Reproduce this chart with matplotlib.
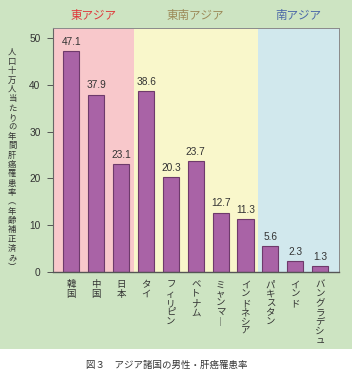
import matplotlib
matplotlib.use("Agg")
import matplotlib.pyplot as plt
from matplotlib.patches import Rectangle

plt.rcParams["font.family"] = ["Noto Sans CJK JP", "DejaVu Sans"]

countries = ["韓国", "中国", "日本", "タイ", "フィリピン", "ベトナム", "ミャンマ︱",
             "インドネシア", "パキスタン", "インド", "バングラデシュ"]
rates = [47.1, 37.9, 23.1, 38.6, 20.3, 23.7, 12.7, 11.3, 5.6, 2.3, 1.3]
regions = ["東アジア", "東南アジア", "南アジア"]
region_counts = [3, 5, 3]
region_colors = ["#f8c8cb", "#f9f7cb", "#d1e8ed"]
region_text_colors = ["#e0383a", "#9c8a58", "#4a66a8"]
yticks = [0, 10, 20, 30, 40, 50]
ylabel = "人口十万人当たりの年間肝癌罹患率︵年齢補正済み︶"
caption = "図３　アジア諸国の男性・肝癌罹患率"

fig = plt.figure(figsize=(3.52, 3.72), dpi=100)
fig.patch.set_facecolor("white")
fig.add_artist(Rectangle((0, 23 / 372), 1, 1 - 23 / 372, transform=fig.transFigure,
                         facecolor="#cde4c2", edgecolor="none", zorder=0))

ax = fig.add_axes([53 / 352, 100 / 372, 286 / 352, 244 / 372])
ax.set_facecolor("none")
ax.set_xlim(-0.74, len(rates) - 0.24)
ax.set_ylim(0, 52.1)

# region bands
start = -0.74
idx = 0
for name, n, c, tc in zip(regions, region_counts, region_colors, region_text_colors):
    end = idx + n - 0.5 if idx + n < len(rates) else len(rates) - 0.24
    ax.axvspan(start, end, color=c, zorder=0, lw=0)
    ax.text((start + end) / 2, 1.05, name, transform=ax.get_xaxis_transform(),
            ha="center", va="center", fontsize=8.3, color=tc)
    start = end
    idx += n

x = list(range(len(rates)))
bars = ax.bar(x, rates, width=0.65, color="#a963a6", edgecolor="#6e3a6b",
              linewidth=0.8, zorder=2)
for xi, v in zip(x, rates):
    ax.annotate(f"{v:.1f}", (xi, v), xytext=(0, 3), textcoords="offset points",
                ha="center", va="bottom", fontsize=7.3, color="#333333",
                family="Liberation Sans")

ax.set_yticks(yticks)
ax.set_yticklabels([str(t) for t in yticks], family="Liberation Sans")
ax.tick_params(axis="y", direction="out", length=4, width=0.7, color="#555555",
               labelsize=7.3, labelcolor="#333333", pad=5)
ax.set_xticks(x)
ax.set_xticklabels(["\n".join(c) for c in countries], fontsize=6.8,
                   color="#333333", va="top", linespacing=1.05)
ax.tick_params(axis="x", length=0, pad=6)

for s in ["top", "right"]:
    ax.spines[s].set_color("#8a8a8a")
    ax.spines[s].set_linewidth(0.7)
ax.spines["left"].set_color("#666666")
ax.spines["left"].set_linewidth(0.8)
ax.spines["bottom"].set_color("#555555")
ax.spines["bottom"].set_linewidth(1.0)

ax.text(-0.143, 0.46, "\n".join(ylabel), transform=ax.transAxes, ha="center",
        va="center", fontsize=6.0, color="#333333", linespacing=1.05)

fig.text(167 / 352, 7 / 372, caption, ha="center", va="center", fontsize=6.8,
         color="#333333")

fig.savefig("out.png", dpi=100)
